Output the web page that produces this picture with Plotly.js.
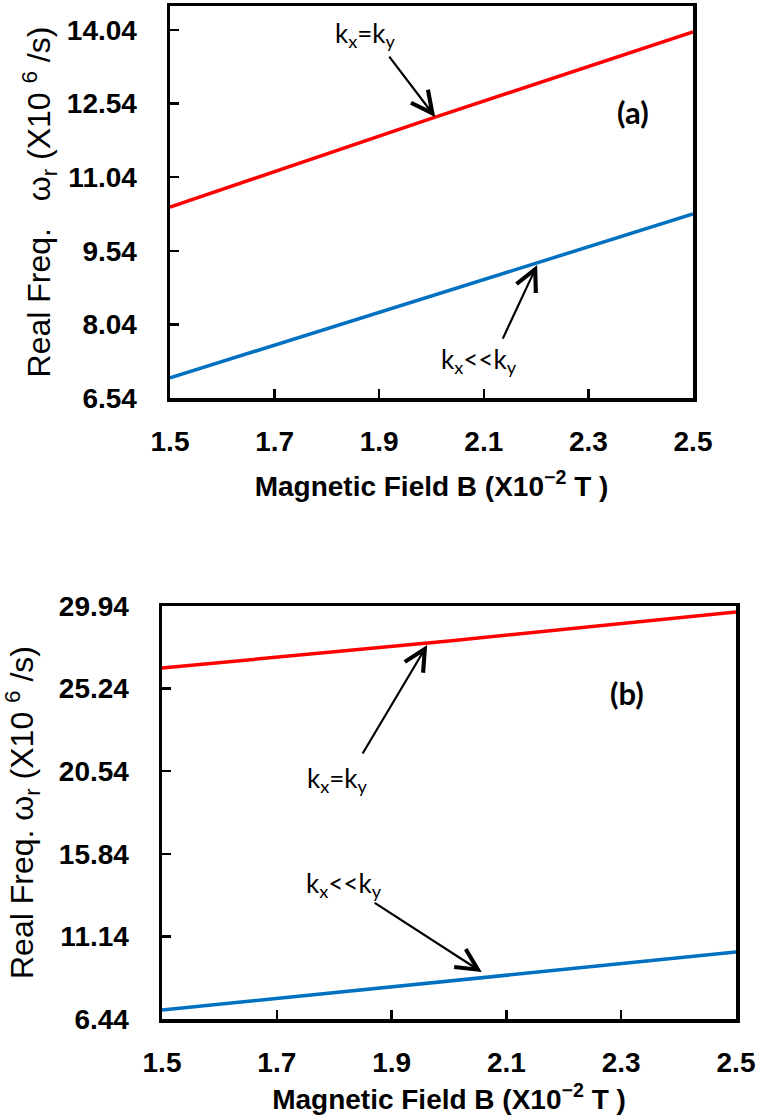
<!DOCTYPE html>
<html>
<head>
<meta charset="utf-8">
<script src="https://cdn.plot.ly/plotly-3.0.1.min.js"></script>
<style>html,body{margin:0;padding:0;background:#fff;}#chart{width:761px;height:1120px;}</style>
</head>
<body>
<div id="chart"></div>
<script>
// ---- data ----
const fieldB = [1.5, 2.0, 2.5];
const panelA_kxEqky = [10.43, 12.24, 14.00];
const panelA_kxLLky = [6.95, 8.62, 10.29];
const panelB_kxEqky = [26.41, 27.95, 29.60];
const panelB_kxLLky = [6.95, 8.60, 10.25];

const xTickVals = [1.5, 1.7, 1.9, 2.1, 2.3, 2.5];
const xTickText = ['1.5', '1.7', '1.9', '2.1', '2.3', '2.5'];
const yTickValsA = [6.54, 8.04, 9.54, 11.04, 12.54, 14.04];
const yTickTextA = ['6.54', '8.04', '9.54', '11.04', '12.54', '14.04'];
const yTickValsB = [6.44, 11.14, 15.84, 20.54, 25.24, 29.94];
const yTickTextB = ['6.44', '11.14', '15.84', '20.54', '25.24', '29.94'];

const RED = '#ff0000';
const BLUE = '#0070c0';

const traces = [
  {x: fieldB, y: panelA_kxEqky, xaxis: 'x', yaxis: 'y', mode: 'lines', line: {color: RED, width: 3.5}, name: 'kx=ky'},
  {x: fieldB, y: panelA_kxLLky, xaxis: 'x', yaxis: 'y', mode: 'lines', line: {color: BLUE, width: 3.5}, name: 'kx<<ky'},
  {x: fieldB, y: panelB_kxEqky, xaxis: 'x2', yaxis: 'y2', mode: 'lines', line: {color: RED, width: 3.5}, name: 'kx=ky'},
  {x: fieldB, y: panelB_kxLLky, xaxis: 'x2', yaxis: 'y2', mode: 'lines', line: {color: BLUE, width: 3.5}, name: 'kx<<ky'}
];

const tickFont = {family: 'Liberation Sans, Arial, sans-serif', size: 28, color: '#000', weight: 'bold'};
const xTitleFont = {family: 'Liberation Sans, Arial, sans-serif', size: 28, color: '#000', weight: 'bold'};
const yTitleFont = {family: 'Liberation Sans, Arial, sans-serif', size: 32, color: '#000'};
const annFont = {family: 'Lato, Open Sans, sans-serif', size: 26, color: '#000'};
const panelFont = {family: 'Lato, Open Sans, sans-serif', size: 31, color: '#000', weight: 'bold'};

function xAxis(domain, anchor, standoff) {
  return {
    domain: domain, anchor: anchor, range: [1.5, 2.5],
    tickvals: xTickVals, ticktext: xTickText,
    ticks: 'inside', ticklen: 9, tickwidth: 2.5, tickcolor: '#000',
    showline: true, linewidth: 3.5, linecolor: '#000', mirror: true,
    showgrid: false, zeroline: false, tickfont: tickFont, ticklabelstandoff: 16,
    title: {text: 'Magnetic Field B (X10<sup>\u22122</sup> T )', font: xTitleFont, standoff: standoff}
  };
}
function yAxis(domain, anchor, range, vals, text, title, standoff) {
  return {
    domain: domain, anchor: anchor, range: range,
    tickvals: vals, ticktext: text,
    ticks: 'inside', ticklen: 9, tickwidth: 2.5, tickcolor: '#000',
    showline: true, linewidth: 3.5, linecolor: '#000', mirror: true,
    showgrid: false, zeroline: false, tickfont: tickFont, ticklabelstandoff: 24,
    title: {text: title, font: yTitleFont, standoff: standoff}
  };
}

const arrowBase = {showarrow: true, text: '', arrowhead: 5, arrowsize: 1.9, arrowwidth: 2.2, arrowcolor: '#000', standoff: 0, startstandoff: 0};

const annotations = [
  // panel (a)
  Object.assign({}, arrowBase, {xref: 'x', yref: 'y', axref: 'x', ayref: 'y', x: 2.007, y: 12.27, ax: 1.917, ay: 13.53}),
  {xref: 'x', yref: 'y', x: 1.873, y: 13.94, text: 'k<sub>x</sub>=k<sub>y</sub>', showarrow: false, font: annFont},
  Object.assign({}, arrowBase, {xref: 'x', yref: 'y', axref: 'x', ayref: 'y', x: 2.202, y: 9.25, ax: 2.135, ay: 7.72}),
  {xref: 'x', yref: 'y', x: 2.091, y: 7.31, text: 'k<sub>x</sub>&lt;&lt;k<sub>y</sub>', showarrow: false, font: annFont},
  {xref: 'x', yref: 'y', x: 2.385, y: 12.37, text: '(a)', showarrow: false, font: panelFont},
  // panel (b)
  Object.assign({}, arrowBase, {xref: 'x2', yref: 'y2', axref: 'x2', ayref: 'y2', x: 1.962, y: 27.72, ax: 1.848, ay: 21.46}),
  {xref: 'x2', yref: 'y2', x: 1.805, y: 20.04, text: 'k<sub>x</sub>=k<sub>y</sub>', showarrow: false, font: annFont},
  Object.assign({}, arrowBase, {xref: 'x2', yref: 'y2', axref: 'x2', ayref: 'y2', x: 2.057, y: 9.11, ax: 1.868, ay: 13.10}),
  {xref: 'x2', yref: 'y2', x: 1.817, y: 14.12, text: 'k<sub>x</sub>&lt;&lt;k<sub>y</sub>', showarrow: false, font: annFont},
  {xref: 'x2', yref: 'y2', x: 2.31, y: 24.99, text: '(b)', showarrow: false, font: panelFont}
];

const layout = {
  width: 761, height: 1120,
  margin: {l: 0, r: 0, t: 0, b: 0},
  paper_bgcolor: '#fff', plot_bgcolor: '#fff',
  showlegend: false,
  xaxis: xAxis([170/761, 693/761], 'y', 21),
  yaxis: yAxis([(1120-398)/1120, (1120-6)/1120], 'x', [6.54, 14.53], yTickValsA, yTickTextA,
               'Real Freq.\u00a0\u00a0 \u03c9<sub>r</sub> (X10 <sup>6</sup> /s)', 7),
  xaxis2: xAxis([162/761, 736/761], 'y2', 13),
  yaxis2: yAxis([(1120-1019)/1120, (1120-606)/1120], 'x2', [6.44, 29.94], yTickValsB, yTickTextB,
               'Real Freq. \u03c9<sub>r</sub> (X10 <sup>6</sup> /s)', 20),
  annotations: annotations
};

Plotly.newPlot('chart', traces, layout, {staticPlot: true, displayModeBar: false});
</script>
</body>
</html>
